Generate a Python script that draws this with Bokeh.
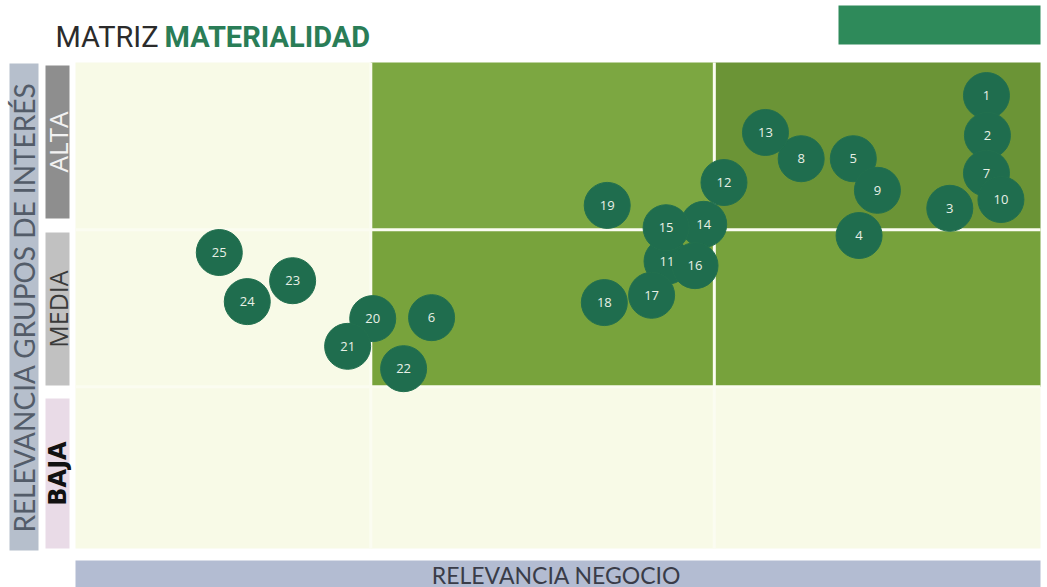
import math
from bokeh.plotting import figure
from bokeh.models import Range1d
from bokeh.core.properties import value
from bokeh.embed import file_html
from bokeh.resources import INLINE

# ---------------- data ----------------
topic_ids = [str(i) for i in range(1, 26)]
business_relevance = [9.44, 9.45, 9.06, 8.12, 8.06, 3.69, 9.44, 7.52, 8.31, 9.59,
                      6.13, 6.72, 7.15, 6.51, 6.12, 6.42, 5.97, 5.48, 5.51, 3.08,
                      2.82, 3.40, 2.25, 1.78, 1.49]
stakeholder_relevance = [9.32, 8.50, 7.00, 6.44, 8.02, 4.75, 7.72, 8.02, 7.37, 7.18,
                         5.91, 7.53, 8.56, 6.67, 6.60, 5.82, 5.21, 5.06, 7.06, 4.73,
                         4.16, 3.70, 5.51, 5.08, 6.09]
x_level_edges = [0, 3.06, 6.62, 10]
y_level_edges = [0, 3.33, 6.56, 10]
y_levels = ["BAJA", "MEDIA", "ALTA"]
title_left = "MATRIZ"
title_right = "MATERIALIDAD"
x_title = "RELEVANCIA NEGOCIO"
y_title = "RELEVANCIA GRUPOS DE INTERÉS"

# ---------------- styling ----------------
W, H = 1047, 587
CREAM = "#f8fae7"
cell_colors = [  # rows bottom->top, cols left->right
    [CREAM, CREAM, CREAM],
    [CREAM, "#78a33c", "#77a23c"],
    [CREAM, "#7ca741", "#6b9436"],
]

p = figure(width=W, height=H, output_backend="svg", toolbar_location=None,
           x_range=Range1d(0, W), y_range=Range1d(H, 0),
           min_border=0, min_border_left=0, min_border_right=0,
           min_border_top=0, min_border_bottom=0)
p.axis.visible = False
p.grid.visible = False
p.outline_line_color = None
p.background_fill_color = "white"
p.border_fill_color = "white"

# score ranges: 0..10 maps onto the plot area (x 75..1040, y 548..62 px)
px_per_x = 96.5
px_per_y = 48.6
p.extra_x_ranges = {"score": Range1d(-75 / px_per_x, (W - 75) / px_per_x)}
p.extra_y_ranges = {"score": Range1d((548 - H) / px_per_y, 548 / px_per_y)}

# ---- quadrant cells ----
L, R, B, T, C = [], [], [], [], []
for i in range(3):
    for j in range(3):
        L.append(x_level_edges[j]); R.append(x_level_edges[j + 1])
        B.append(y_level_edges[i]); T.append(y_level_edges[i + 1])
        C.append(cell_colors[i][j])
p.quad(left=L, right=R, bottom=B, top=T, fill_color=C, line_color=None,
       x_range_name="score", y_range_name="score")

# separators
sep = "#fbfcf1"
p.segment(x0=[x_level_edges[1], x_level_edges[2]], x1=[x_level_edges[1], x_level_edges[2]],
          y0=[y_level_edges[0]] * 2, y1=[y_level_edges[3]] * 2,
          line_color=sep, line_width=3, x_range_name="score", y_range_name="score")
p.segment(x0=[x_level_edges[0]] * 2, x1=[x_level_edges[3]] * 2,
          y0=[y_level_edges[1], y_level_edges[2]], y1=[y_level_edges[1], y_level_edges[2]],
          line_color=sep, line_width=3, x_range_name="score", y_range_name="score")

# ---- bubbles ----
p.scatter(x=business_relevance, y=stakeholder_relevance, size=46, marker="circle",
          fill_color="#1f6d4e", line_color="#22704f", line_width=1,
          x_range_name="score", y_range_name="score")
p.text(x=business_relevance, y=stakeholder_relevance, text=topic_ids,
       text_align="center", text_baseline="middle", text_color="#e8f0e6",
       text_font=value("Open Sans"), text_font_size="13px",
       x_range_name="score", y_range_name="score")

# ---- title ----
p.text(x=[55], y=[36], text=[title_left], text_align="left",
       text_baseline="middle", text_color="#2b2b2b",
       text_font=value("Roboto"), text_font_size="29px")
p.text(x=[164], y=[36], text=[title_right], text_align="left",
       text_baseline="middle", text_color="#2a7d57", text_font_style="bold",
       text_font=value("Roboto"), text_font_size="29px")
p.quad(left=[838], right=[1040], top=[5], bottom=[44],
       fill_color="#2e8a5a", line_color=None)

# ---- left labels ----
p.quad(left=[9], right=[38], top=[63], bottom=[550],
       fill_color="#b6bfcc", line_color=None)
p.text(x=[23], y=[307], text=[y_title], angle=math.pi / 2,
       text_align="center", text_baseline="middle", text_color="#535c69",
       text_font=value("Lato"), text_font_size="28px")

level_boxes = [(398, 548, "#e9dbe7", "#111111", "bold", "DejaVu Sans", "24px"),
               (232, 385, "#c1c1c1", "#3a3a3a", "normal", "Open Sans", "25px"),
               (65, 218, "#8e8e8e", "#f2f2f2", "normal", "Open Sans", "26px")]
for (top_y, bot_y, fc, tc, fs, ff, fsz), lab in zip(level_boxes, y_levels):
    p.quad(left=[45], right=[69], top=[top_y], bottom=[bot_y],
           fill_color=fc, line_color=None)
    p.text(x=[57], y=[(top_y + bot_y) / 2], text=[lab], angle=math.pi / 2,
           text_align="center", text_baseline="middle", text_color=tc,
           text_font_style=fs, text_font=value(ff), text_font_size=fsz)

# ---- bottom label ----
p.quad(left=[75], right=[1040], top=[560], bottom=[590],
       fill_color="#b3bcd2", line_color=None)
p.text(x=[556], y=[574], text=[x_title], text_align="center",
       text_baseline="middle", text_color="#3a3c48",
       text_font=value("Lato"), text_font_size="23px")

open("out.html", "w").write(file_html(p, INLINE))
